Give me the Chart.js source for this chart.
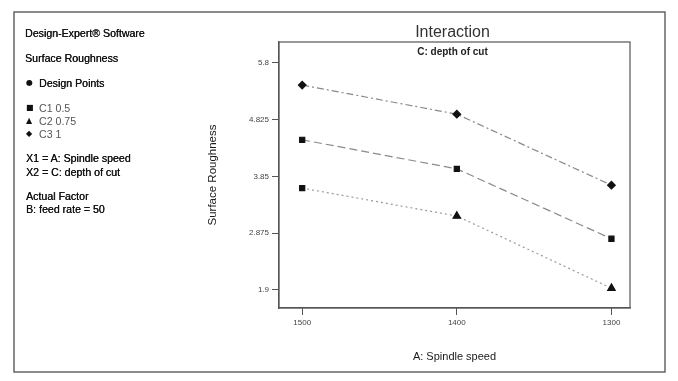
<!DOCTYPE html>
<html>
<head>
<meta charset="utf-8">
<script src="https://cdn.jsdelivr.net/npm/chart.js@4.4.0/dist/chart.umd.min.js"></script>
<style>
  html, body { margin: 0; padding: 0; background: #fff; }
  #wrap { position: relative; width: 678px; height: 381px; overflow: hidden; }
  canvas { position: absolute; left: 0; top: 0; }
  .t { position: absolute; font-family: "Liberation Sans", Arial, sans-serif; font-size: 10.6px; line-height: 12px; color: #111; white-space: nowrap; text-shadow: 0.3px 0 0 #111; }
  .g { color: #555; text-shadow: none; }
  .m { position: absolute; font-family: "DejaVu Sans", sans-serif; font-size: 8px; line-height: 12px; color: #111; }
</style>
</head>
<body>
<div id="wrap">
  <canvas id="c" width="678" height="381"></canvas>
  <div class="t" style="left:25px;top:27px;">Design-Expert® Software</div>
  <div class="t" style="left:25px;top:52px;">Surface Roughness</div>
  <div class="m" style="left:26px;top:77px;">●</div>
  <div class="t" style="left:39px;top:77px;">Design Points</div>
  <div class="m" style="left:26px;top:102px;">■</div>
  <div class="t g" style="left:39px;top:102px;">C1 0.5</div>
  <div class="m" style="left:26px;top:115px;">▲</div>
  <div class="t g" style="left:39px;top:115px;">C2 0.75</div>
  <div class="m" style="left:26px;top:128px;">◆</div>
  <div class="t g" style="left:39px;top:128px;">C3 1</div>
  <div class="t" style="left:26px;top:152px;">X1 = A: Spindle speed</div>
  <div class="t" style="left:26px;top:166px;">X2 = C: depth of cut</div>
  <div class="t" style="left:26px;top:190px;">Actual Factor</div>
  <div class="t" style="left:26px;top:203px;">B: feed rate = 50</div>
</div>
<script>
const spindleSpeed = [1500, 1400, 1300];
const c1Values = [4.48, 3.98, 2.78];
const c2Values = [3.65, 3.17, 1.93];
const c3Values = [5.42, 4.92, 3.70];
const yTicks = [1.9, 2.875, 3.85, 4.825, 5.8];
const xTicks = [1300, 1400, 1500];
const chartTitle = 'Interaction';
const chartSubtitle = 'C: depth of cut';

function pts(vals) { return spindleSpeed.map((x, i) => ({ x: x, y: vals[i] })); }

const frame = {
  id: 'frame',
  beforeDraw(chart) {
    const ctx = chart.ctx;
    ctx.save();
    ctx.strokeStyle = '#666';
    ctx.lineWidth = 1.5;
    ctx.strokeRect(14, 12, 651, 360);
    ctx.restore();
  },
  afterDraw(chart) {
    const a = chart.chartArea, ctx = chart.ctx;
    const cx = (a.left + a.right) / 2;
    ctx.save();
    ctx.strokeStyle = '#555';
    ctx.lineWidth = 1.2;
    ctx.strokeRect(a.left, a.top, a.right - a.left, a.bottom - a.top);
    ctx.textAlign = 'center';
    ctx.textBaseline = 'middle';
    ctx.fillStyle = '#333';
    ctx.font = '16px "Liberation Sans", Arial, sans-serif';
    ctx.fillText(chartTitle, cx - 2, a.top - 9);
    ctx.fillStyle = '#222';
    ctx.font = 'bold 10px "Liberation Sans", Arial, sans-serif';
    ctx.fillText(chartSubtitle, cx - 2, a.top + 10);
    ctx.restore();
  }
};

new Chart(document.getElementById('c'), {
  type: 'line',
  data: {
    datasets: [
      { label: 'C1 0.5', data: pts(c1Values), borderColor: '#8a8a8a', borderWidth: 1.2, borderDash: [8, 4],
        pointStyle: 'rect', pointRadius: 3.6, pointBackgroundColor: '#111', pointBorderColor: '#111' },
      { label: 'C2 0.75', data: pts(c2Values), borderColor: '#9a9a9a', borderWidth: 1.2, borderDash: [2, 3],
        pointStyle: ['rect', 'triangle', 'triangle'], pointRadius: [3.6, 4.3, 4.3], pointBackgroundColor: '#111', pointBorderColor: '#111' },
      { label: 'C3 1', data: pts(c3Values), borderColor: '#8a8a8a', borderWidth: 1.2, borderDash: [7, 3, 2, 3],
        pointStyle: 'rectRot', pointRadius: 3.8, pointBackgroundColor: '#111', pointBorderColor: '#111' }
    ]
  },
  options: {
    responsive: false,
    animation: false,
    layout: { padding: { left: 202, right: 48, top: 42, bottom: 13 } },
    plugins: {
      legend: { display: false },
      tooltip: { enabled: false },
      title: { display: false }
    },
    scales: {
      x: {
        type: 'linear', reverse: true, min: 1288, max: 1515,
        afterBuildTicks(s) { s.ticks = xTicks.map(v => ({ value: v })); },
        afterFit(s) { s.height = 60; },
        ticks: { color: '#444', font: { family: '"Liberation Sans", Arial, sans-serif', size: 8 }, padding: 3, maxRotation: 0,
          callback: v => String(v) },
        grid: { drawOnChartArea: false, drawTicks: true, tickLength: 7, color: '#555' },
        border: { display: true, color: '#555', width: 1.2 },
        title: { display: true, text: 'A: Spindle speed', color: '#1a1a1a',
          font: { family: '"Liberation Sans", Arial, sans-serif', size: 11 }, padding: { top: 4, bottom: 4 } }
      },
      y: {
        type: 'linear', min: 1.59, max: 6.16,
        afterBuildTicks(s) { s.ticks = yTicks.map(v => ({ value: v })); },
        afterFit(s) { s.width = 77; },
        ticks: { color: '#444', font: { family: '"Liberation Sans", Arial, sans-serif', size: 8 }, padding: 3,
          callback: v => String(v) },
        grid: { drawOnChartArea: false, drawTicks: true, tickLength: 7, color: '#555' },
        border: { display: true, color: '#555', width: 1.2 },
        title: { display: true, text: 'Surface Roughness', color: '#1a1a1a',
          font: { family: '"Liberation Sans", Arial, sans-serif', size: 11.5 }, padding: { top: 4, bottom: 4 } }
      }
    }
  },
  plugins: [frame]
});
</script>
</body>
</html>
